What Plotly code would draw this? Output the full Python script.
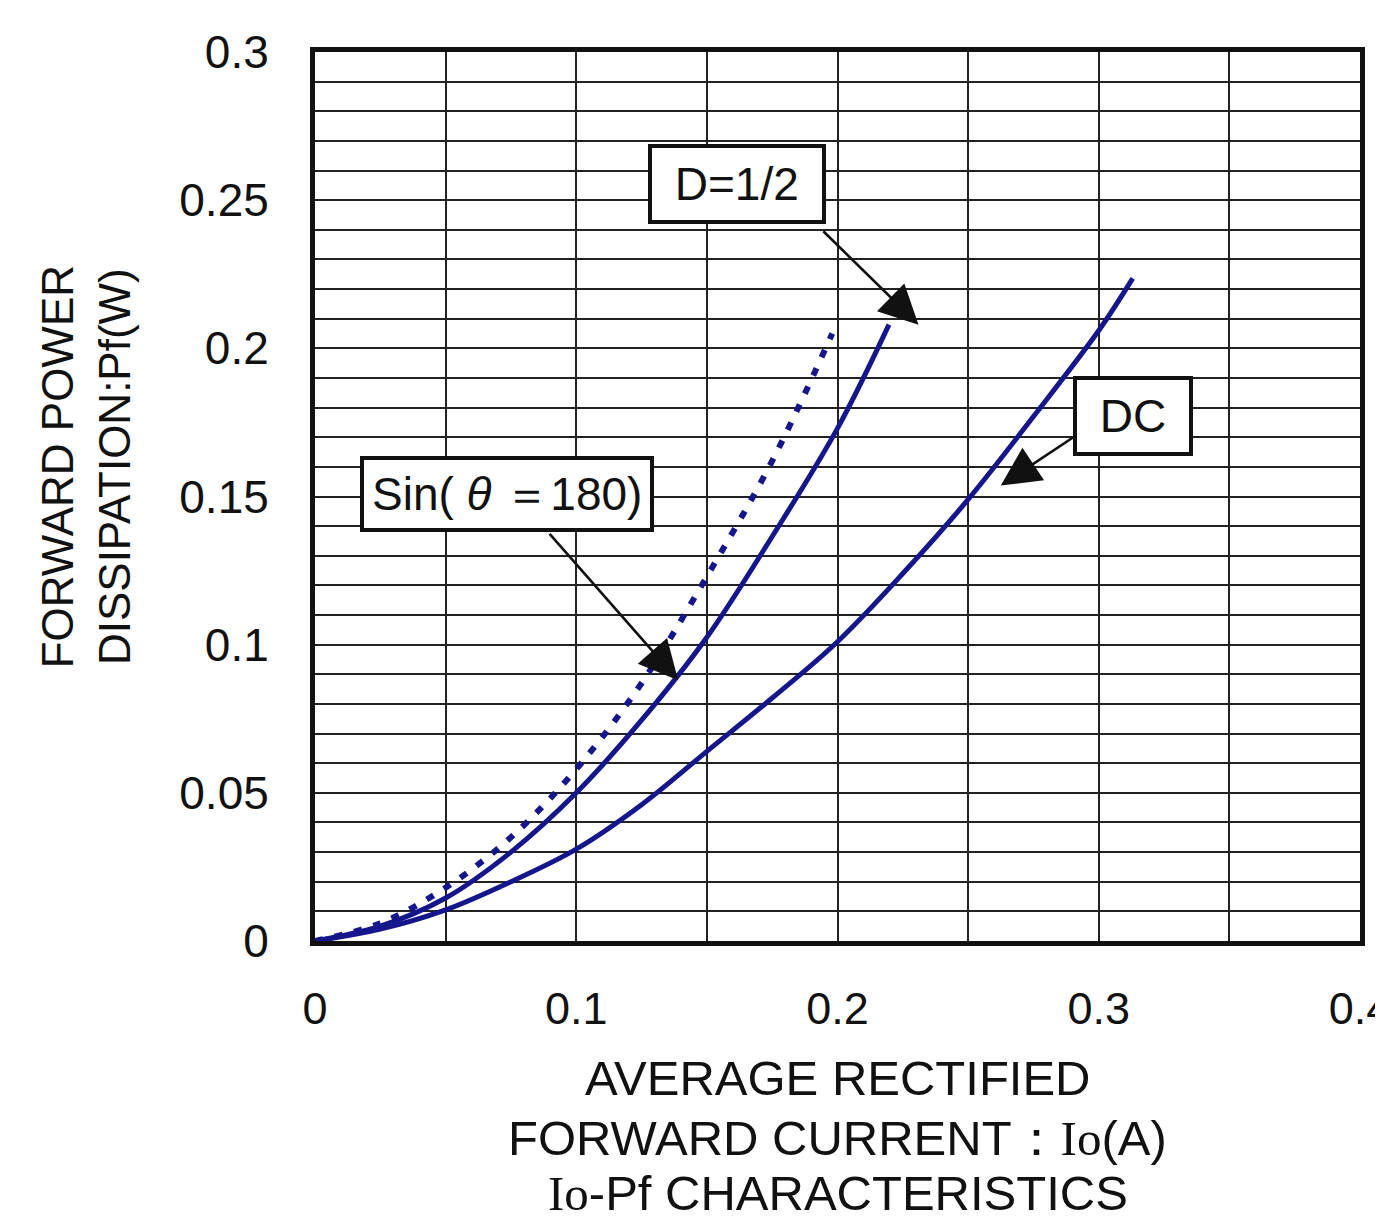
import plotly.graph_objects as go

# ---- data ----
dc_x = [0, 0.025, 0.05, 0.075, 0.1, 0.125, 0.15, 0.175, 0.2, 0.225, 0.25, 0.275, 0.3, 0.313]
dc_y = [0, 0.004, 0.0105, 0.020, 0.031, 0.046, 0.064, 0.082, 0.101, 0.124, 0.149, 0.177, 0.206, 0.2236]

half_x = [0, 0.025, 0.05, 0.075, 0.1, 0.125, 0.15, 0.175, 0.2, 0.2197]
half_y = [0, 0.005, 0.0145, 0.030, 0.050, 0.0745, 0.1025, 0.1365, 0.173, 0.208]

sin_x = [0, 0.025, 0.05, 0.075, 0.1, 0.125, 0.15, 0.175, 0.198]
sin_y = [0, 0.006, 0.018, 0.035, 0.058, 0.087, 0.123, 0.162, 0.205]

labels = ["\u00a0D=1/2\u00a0", "Sin( <i>θ</i> ＝180)", "\u00a0DC\u00a0"]
x_title = ["AVERAGE RECTIFIED", "FORWARD CURRENT：Io(A)", "Io-Pf CHARACTERISTICS"]
y_title = ["FORWARD POWER", "DISSIPATION:Pf(W)"]

NAVY = "#16168c"
FONT = "Liberation Sans, Arial, sans-serif"

fig = go.Figure()
fig.add_trace(go.Scatter(x=dc_x, y=dc_y, mode="lines", line=dict(color=NAVY, width=5, shape="spline", smoothing=1.0), name="DC"))
fig.add_trace(go.Scatter(x=half_x, y=half_y, mode="lines", line=dict(color=NAVY, width=5, shape="spline", smoothing=1.0), name="D=1/2"))
fig.add_trace(go.Scatter(x=sin_x, y=sin_y, mode="lines", line=dict(color=NAVY, width=6, shape="spline", smoothing=1.0, dash="8px,12px"), name="Sin"))

# label boxes
box_pos = [(0.1617, 0.2555), (0.0735, 0.1507), (0.313, 0.177)]
box_pad = [10, 8, 10]
for t, (bx, by), bp in zip(labels, box_pos, box_pad):
    fig.add_annotation(x=bx, y=by, xref="x", yref="y", text=t, showarrow=False,
                       font=dict(family=FONT, size=46, color="#111"),
                       bgcolor="white", bordercolor="#111", borderwidth=4, borderpad=bp)

# arrows (tail -> head)
arrows = [((0.194, 0.240), (0.231, 0.208)),
          ((0.0893, 0.1379), (0.139, 0.088)),
          ((0.292, 0.171), (0.2625, 0.1537))]
for (tx, ty), (hx, hy) in arrows:
    fig.add_annotation(x=hx, y=hy, ax=tx, ay=ty, xref="x", yref="y", axref="x", ayref="y",
                       text="", showarrow=True, arrowhead=2, arrowsize=3, arrowwidth=2.6,
                       arrowcolor="#111")

# axis titles
fig.add_annotation(x=-0.219, y=0.533, xref="paper", yref="paper", text="<br>".join(y_title),
                   xanchor="center", yanchor="middle",
                   textangle=-90, showarrow=False, font=dict(family=FONT, size=44, color="#111"))
serif_io = "<span style='font-family:Liberation Serif'>Io</span>"
x_title_y = [-0.1541, -0.2216, -0.2835]
for line, ty in zip(x_title, x_title_y):
    fig.add_annotation(x=0.5, y=ty, xref="paper", yref="paper", text=line.replace("Io", serif_io),
                       xanchor="center", yanchor="middle",
                       showarrow=False, font=dict(family=FONT, size=49, color="#111"))

fig.update_layout(
    width=1375, height=1214,
    margin=dict(l=307, r=23, t=44, b=281, autoexpand=False),
    paper_bgcolor="white", plot_bgcolor="white",
    showlegend=False,
    font=dict(family=FONT, color="#111"),
)
fig.update_xaxes(range=[0, 0.4], dtick=0.1, tick0=0, showgrid=True, gridcolor="#222", gridwidth=2,
                 minor=dict(dtick=0.05, showgrid=True, gridcolor="#222", gridwidth=2),
                 showline=True, linecolor="#111", linewidth=5, mirror=True, zeroline=False,
                 automargin=False,
                 tickfont=dict(size=45), ticks="", ticklabelstandoff=24, ticklabeloverflow="allow")
fig.update_yaxes(range=[0, 0.3], dtick=0.05, tick0=0, showgrid=True, gridcolor="#222", gridwidth=2,
                 minor=dict(dtick=0.01, showgrid=True, gridcolor="#222", gridwidth=2),
                 showline=True, linecolor="#111", linewidth=5, mirror=True, zeroline=False,
                 automargin=False,
                 tickfont=dict(size=46), ticks="", ticklabelstandoff=32)

fig.write_html("out.html")
